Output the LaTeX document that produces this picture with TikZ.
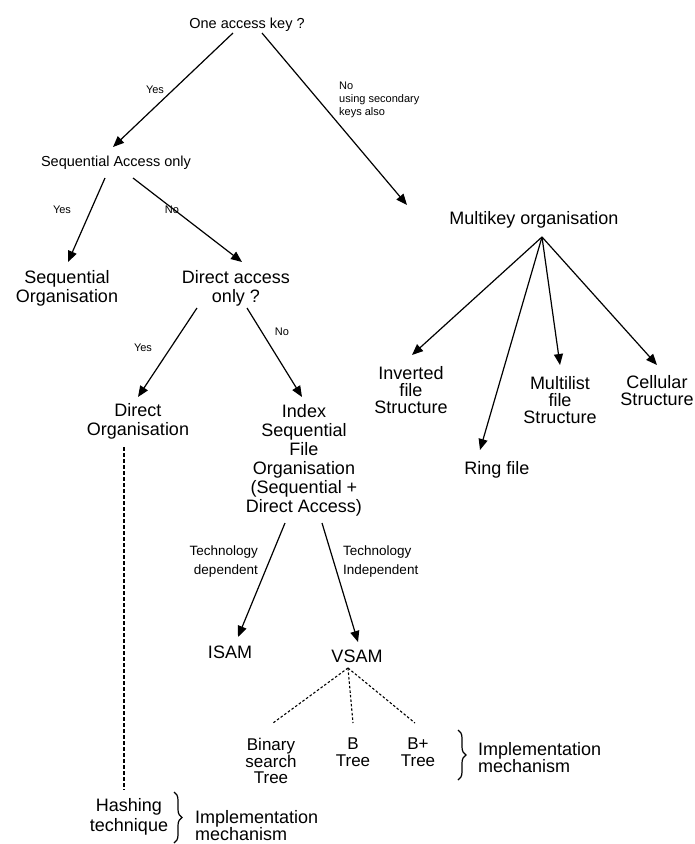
\documentclass[tikz,border=0pt]{standalone}
\usepackage{fontspec}
\setmainfont{Liberation Sans}
\usetikzlibrary{arrows.meta, positioning, calc, decorations.pathreplacing}

\begin{document}
\begin{tikzpicture}[
        x=1pt, y=-1pt,
        item/.style={align=center, inner sep=0pt, font=\fontsize{18}{19}\selectfont},
        lead/.style={align=center, inner sep=0pt, font=\fontsize{14.5}{16}\selectfont},
        choice/.style={inner sep=0pt, font=\fontsize{11}{13}\selectfont},
        tech/.style={inner sep=0pt, font=\fontsize{13.5}{19}\selectfont},
        arrow/.style={-{Triangle[length=11pt, width=9pt]}, line width=1.2pt},
        dotline/.style={line width=1.1pt, dash pattern=on 2.5pt off 2pt},
        dashline/.style={line width=1.1pt, dash pattern=on 3.5pt off 2.5pt},
        curly/.style={decorate, decoration={brace, amplitude=8pt}, line width=1.2pt}
    ]
        \useasboundingbox (0,0) rectangle (694,844);

        % Primary key branch
        \node[lead] (top) at (247,25) {One access key ?};
        \node[lead] (seq) at (116,163) {Sequential Access only};
        \node[item] (seqorg) at (67,288) {Sequential\\Organisation};
        \node[item] (direct) at (236,288) {Direct access\\only ?};
        \node[item] (dirorg) at (138,421) {Direct\\Organisation};
        \node[item] (isfo) at (304,460) {Index\\Sequential\\File\\Organisation\\(Sequential +\\Direct Access)};
        \node[item] (isam) at (230,652) {ISAM};
        \node[item] (vsam) at (357,656) {VSAM};
        \node[item, font=\fontsize{17}{16.5}\selectfont] (binary) at (271,761) {Binary\\search\\Tree};
        \node[item, font=\fontsize{17}{17}\selectfont] (btree) at (353,752) {B\\Tree};
        \node[item, font=\fontsize{17}{17}\selectfont] (bplus) at (418,752) {B+\\Tree};
        \node[item, font=\fontsize{18}{20}\selectfont] (hashing) at (129,817) {Hashing\\technique};

        % Secondary key branch
        \node[item] (multikey) at (534,220) {Multikey organisation};
        \node[item, font=\fontsize{18}{17}\selectfont] (inverted) at (411,390) {Inverted\\file\\Structure};
        \node[item] (ring) at (497,470) {Ring file};
        \node[item, font=\fontsize{18}{17}\selectfont] (multilist) at (560,400) {Multilist\\file\\Structure};
        \node[item, font=\fontsize{18}{17}\selectfont] (cellular) at (657,391) {Cellular\\Structure};

        \draw[arrow] ($(top)+(-14,8)$) -- ($(seq)+(-3,-16)$);
        \draw[arrow] ($(top)+(15,8)$) -- ($(multikey)+(-127,-15)$);
        \draw[arrow] ($(seq)+(-11,15)$) -- ($(seqorg)+(1,-26)$);
        \draw[arrow] ($(seq)+(17,15)$) -- ($(direct)+(6,-26)$);
        \draw[arrow] ($(direct)+(-39,20)$) -- ($(dirorg)+(0,-24)$);
        \draw[arrow] ($(direct)+(11,20)$) -- ($(isfo)+(-2,-63)$);
        \draw[dashline] ($(dirorg)+(-14,26)$) -- ($(hashing)+(-5,-27)$);
        \draw[arrow] ($(isfo)+(-19,63)$) -- ($(isam)+(8,-15)$);
        \draw[arrow] ($(isfo)+(18,63)$) -- ($(vsam)+(1,-14)$);
        \draw[dotline] ($(vsam)+(-9,12)$) -- ($(binary)+(2,-38)$);
        \draw[dotline] ($(vsam)+(-9,12)$) -- ($(btree)+(0,-29)$);
        \draw[dotline] ($(vsam)+(-9,12)$) -- ($(bplus)+(-3,-29)$);

        \draw[arrow] ($(multikey)+(8,17)$) -- ($(inverted)+(1,-35)$);
        \draw[arrow] ($(multikey)+(8,17)$) -- ($(ring)+(-17,-20)$);
        \draw[arrow] ($(multikey)+(8,17)$) -- ($(multilist)+(0,-35)$);
        \draw[arrow] ($(multikey)+(8,17)$) -- ($(cellular)+(0,-26)$);

        % Labels
        \node[choice] (yes1) at (155,90) {Yes};
        \node[choice, align=left, anchor=west] (no1) at (339,100) {No\\using secondary\\keys also};
        \node[choice] (yes2) at (62,210) {Yes};
        \node[choice] (no2) at (172,210) {No};
        \node[choice] (yes3) at (143,348) {Yes};
        \node[choice] (no3) at (282,332) {No};
        \node[tech, align=right, anchor=east] (dep) at (258,562) {Technology\\dependent};
        \node[tech, align=left, anchor=west] (indep) at (343,562) {Technology\\Independent};

        % Implementation mechanisms
        \draw[curly] (458,730) -- (458,780);
        \node[item, align=left, anchor=west, font=\fontsize{18}{17}\selectfont] (impltree) at (478,758) {Implementation\\mechanism};
        \draw[curly] (174,792) -- (174,843);
        \node[item, align=left, anchor=west, font=\fontsize{18}{17}\selectfont] (implhash) at (195,826) {Implementation\\mechanism};
    \end{tikzpicture}
\end{document}
